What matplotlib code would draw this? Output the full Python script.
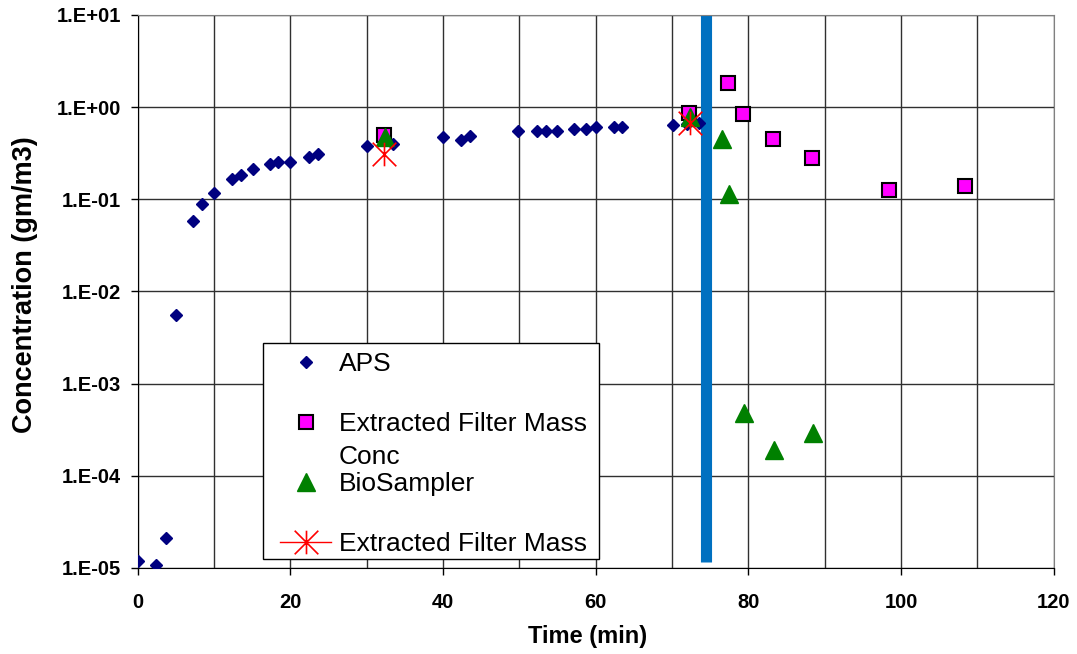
import matplotlib
matplotlib.use('Agg')
import matplotlib.pyplot as plt
from matplotlib import ticker
from matplotlib.lines import Line2D
from matplotlib.patches import Rectangle
from matplotlib.path import Path
import numpy as np

plt.rcParams['font.family'] = ['Liberation Sans', 'DejaVu Sans']

# data

aps_time = [0.0, 2.4, 3.7, 5.1, 7.3, 8.4, 10.0, 12.4, 13.6, 15.1, 17.3, 18.4, 20.0, 22.4, 23.6,
            30.0, 33.5, 40.0, 42.4, 43.5, 49.9, 52.3, 53.5, 55.0, 57.2, 58.7, 60.1, 62.4, 63.5,
            70.1, 72.0, 73.5]
aps_conc = [1.2e-5, 1.07e-5, 2.1e-5, 0.0055, 0.058, 0.090, 0.118, 0.168, 0.183, 0.211, 0.241, 0.251,
            0.251, 0.287, 0.314, 0.378, 0.397, 0.469, 0.442, 0.489, 0.554, 0.554, 0.554, 0.558,
            0.582, 0.582, 0.612, 0.612, 0.612, 0.643, 0.66, 0.681]

filter_time = [32.3, 72.2, 77.3, 79.3, 83.3, 88.4, 98.4, 108.4]
filter_conc = [0.50, 0.86, 1.82, 0.85, 0.45, 0.28, 0.127, 0.138]

bio_time = [32.4, 72.3, 76.6, 77.5, 79.5, 83.4, 88.5]
bio_conc = [0.47, 0.79, 0.45, 0.115, 4.8e-4, 1.9e-4, 2.95e-4]

mass_time = [32.35, 72.3]
mass_conc = [0.31, 0.68]

cutoff_time = [74.5, 74.5]
cutoff_conc = [1.15e-5, 10.0]

labels = ['APS', 'Extracted Filter Mass', 'BioSampler', 'Extracted Filter Mass']
label_extra = 'Conc'

# plot

FIG_W, FIG_H = 1077, 654

asterisk = Path([(0, -1), (0, 1), (-1, -1), (1, 1), (-1, 1), (1, -1)],
                [Path.MOVETO, Path.LINETO, Path.MOVETO, Path.LINETO, Path.MOVETO, Path.LINETO])


def format_decade(value, pos=None):
    return f'1.E{int(round(np.log10(value))):+03d}'


def build_axes():
    fig = plt.figure(figsize=(FIG_W / 100, FIG_H / 100), dpi=100)
    ax = fig.add_axes([137.5 / FIG_W, 1 - 568 / FIG_H, 916.2 / FIG_W, 553 / FIG_H])
    ax.set_yscale('log')
    ax.set_xlim(0, 120)
    ax.set_ylim(1e-5, 10)
    ax.xaxis.set_major_locator(ticker.MultipleLocator(20))
    ax.xaxis.set_minor_locator(ticker.MultipleLocator(10))
    ax.xaxis.set_minor_formatter(ticker.NullFormatter())
    ax.yaxis.set_major_locator(ticker.LogLocator(base=10, numticks=10))
    ax.yaxis.set_minor_locator(ticker.NullLocator())
    ax.yaxis.set_major_formatter(ticker.FuncFormatter(format_decade))
    ax.grid(True, which='both', axis='x', color='#303030', linewidth=1)
    ax.grid(True, which='major', axis='y', color='#303030', linewidth=1)
    ax.set_axisbelow(True)
    ax.tick_params(which='major', direction='out', length=5, width=1, colors='black', labelsize=14.5)
    ax.tick_params(axis='y', pad=7)
    ax.tick_params(axis='x', pad=13)
    ax.tick_params(which='minor', length=0)
    for label in ax.get_xticklabels() + ax.get_yticklabels():
        label.set_fontweight('bold')
    for side in ['left', 'bottom']:
        ax.spines[side].set_color('black')
    for side in ['top', 'right']:
        ax.spines[side].set_color('#808080')
    ax.set_xlabel('Time (min)', fontsize=17, fontweight='bold')
    ax.set_ylabel('Concentration (gm/m3)', fontsize=19.5, fontweight='bold')
    ax.xaxis.set_label_coords(0.4915, -0.103)
    ax.yaxis.set_label_coords(-0.109, 0.512)
    return fig, ax


def plot_series(ax):
    ax.plot(cutoff_time, cutoff_conc, '-', color='#0070C0', linewidth=8, solid_capstyle='butt', zorder=2)
    h1, = ax.plot(aps_time, aps_conc, 'D', color='#000080', markersize=5.8, linestyle='none', zorder=3)
    h2, = ax.plot(filter_time, filter_conc, 's', markerfacecolor='#FF00FF', markeredgecolor='black',
                  markeredgewidth=1.5, markersize=10.5, linestyle='none', zorder=4)
    h3, = ax.plot(bio_time, bio_conc, '^', color='#008000', markersize=12.5, linestyle='none', zorder=5)
    ax.plot(mass_time, mass_conc, marker=asterisk, color='#FF0000', markersize=17,
            markeredgewidth=1.2, linestyle='none', zorder=6)
    h4 = Line2D([], [], color='#FF0000', linewidth=1, marker=asterisk, markersize=17, markeredgewidth=1.2)
    return [h1, h2, h3, h4]


def px_to_axes(ax, x, y):
    return ax.transAxes.inverted().transform((x, FIG_H - y))


def show_legend(fig, ax, handles):
    anchor = px_to_axes(ax, 280, 352)
    legend = ax.legend(handles, labels, loc='upper left', bbox_to_anchor=tuple(anchor),
                       borderaxespad=0, borderpad=0, fontsize=19, frameon=False,
                       labelspacing=1.37, handlelength=1.95, handletextpad=0.27)
    legend.set_zorder(10)
    fig.canvas.draw()

    # frame around the legend, wider padding at the sides than at top and bottom
    box = legend.get_window_extent()
    x0, y0 = box.x0 - 17, box.y0 - 3
    x1, y1 = box.x1 + 12, box.y1 + 9
    frame = Rectangle((x0 / FIG_W, y0 / FIG_H), (x1 - x0) / FIG_W, (y1 - y0) / FIG_H,
                      transform=fig.transFigure, facecolor='white', edgecolor='black',
                      linewidth=1, zorder=9)
    ax.add_artist(frame)

    text_box = legend.get_texts()[1].get_window_extent()
    x, y = ax.transAxes.inverted().transform((text_box.x0, text_box.y0 - 9))
    ax.text(x, y, label_extra, transform=ax.transAxes, fontsize=19, va='top', ha='left', zorder=11)


def execute():
    fig, ax = build_axes()
    handles = plot_series(ax)
    show_legend(fig, ax, handles)
    fig.savefig('out.png', dpi=100)


if __name__ == '__main__':
    execute()
